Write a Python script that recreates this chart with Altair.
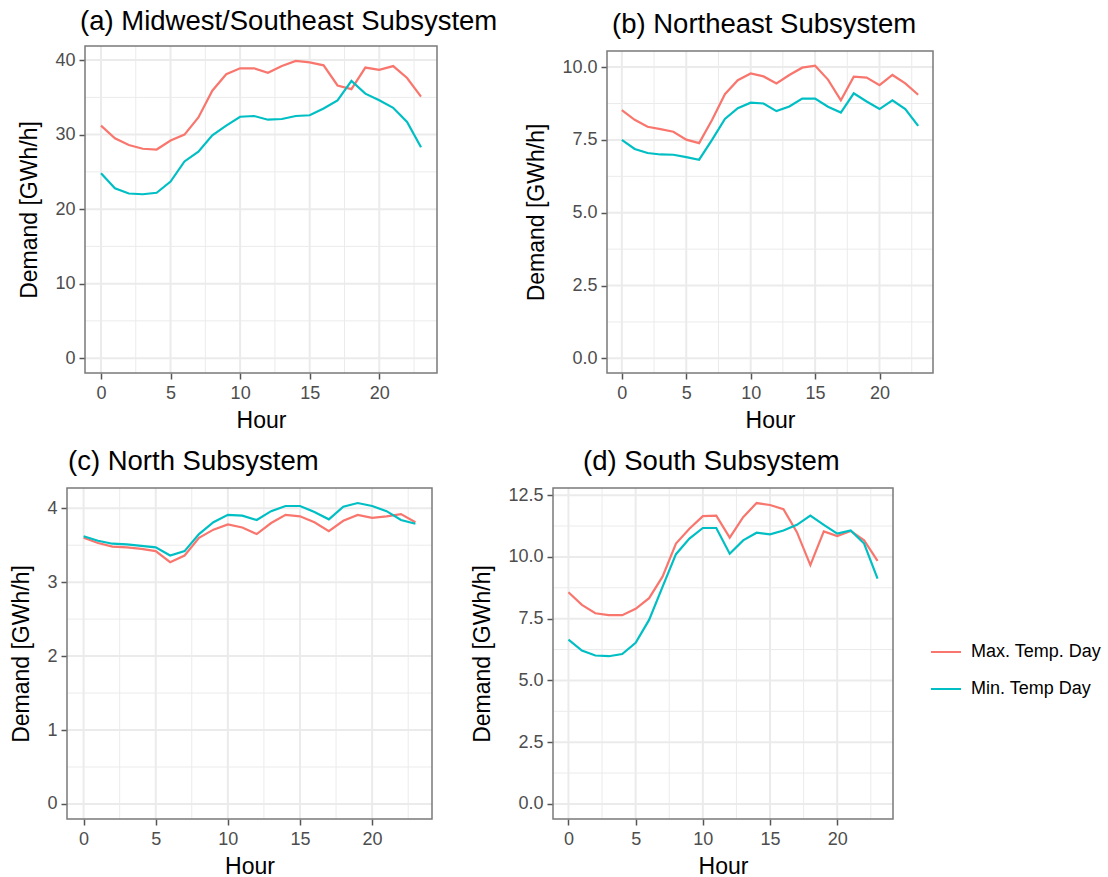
import altair as alt
import pandas as pd

# Hourly demand on the maximum- and minimum-temperature days, per subsystem
hours = list(range(24))

mw_max = [31.2, 29.5, 28.6, 28.1, 28.0, 29.2, 30.0, 32.3, 35.9, 38.1, 38.9, 38.9,
          38.3, 39.2, 39.9, 39.7, 39.3, 36.6, 36.1, 39.0, 38.7, 39.2, 37.6, 35.1]
mw_min = [24.8, 22.8, 22.1, 22.0, 22.2, 23.7, 26.4, 27.7, 29.9, 31.2, 32.4, 32.5,
          32.0, 32.1, 32.5, 32.6, 33.5, 34.6, 37.2, 35.5, 34.6, 33.6, 31.7, 28.3]

ne_max = [8.52, 8.19, 7.95, 7.87, 7.78, 7.51, 7.39, 8.18, 9.07, 9.55, 9.78, 9.68,
          9.44, 9.73, 9.98, 10.05, 9.57, 8.86, 9.67, 9.64, 9.38, 9.73, 9.44, 9.05]
ne_min = [7.50, 7.19, 7.05, 7.00, 6.99, 6.91, 6.82, 7.50, 8.22, 8.59, 8.78, 8.75,
          8.49, 8.65, 8.92, 8.92, 8.64, 8.44, 9.10, 8.82, 8.56, 8.86, 8.56, 7.98]

n_max = [3.60, 3.53, 3.48, 3.47, 3.45, 3.42, 3.27, 3.36, 3.60, 3.71, 3.78, 3.74,
         3.65, 3.80, 3.91, 3.89, 3.81, 3.69, 3.83, 3.91, 3.87, 3.89, 3.92, 3.81]
n_min = [3.62, 3.56, 3.52, 3.51, 3.49, 3.47, 3.36, 3.42, 3.65, 3.81, 3.91, 3.90,
         3.84, 3.96, 4.03, 4.03, 3.95, 3.85, 4.02, 4.07, 4.03, 3.96, 3.84, 3.79]

s_max = [8.57, 8.06, 7.72, 7.64, 7.64, 7.90, 8.33, 9.20, 10.54, 11.14, 11.65, 11.67,
         10.78, 11.61, 12.18, 12.10, 11.93, 11.00, 9.67, 11.03, 10.84, 11.05, 10.67, 9.84]
s_min = [6.65, 6.21, 6.01, 5.98, 6.07, 6.52, 7.45, 8.79, 10.11, 10.74, 11.17, 11.17,
         10.13, 10.67, 10.98, 10.91, 11.07, 11.30, 11.67, 11.30, 10.94, 11.07, 10.54, 9.12]

SERIES = ["Max. Temp. Day", "Min. Temp Day"]
COLORS = ["#F8766D", "#00BFC4"]

x_major = [0, 5, 10, 15, 20]
x_minor = [2.5, 7.5, 12.5, 17.5, 22.5]

FONT = "Liberation Sans"
LABEL = "#4D4D4D"
GRID = "#EBEBEB"
FRAME = "#7a7a7a"
TICK = "#555555"
X_LO, X_HI = -1.15, 24.15
W, H = 1108, 877


def panel(title, mx, mn, yticks, yminor, yfmt, box, title_dx, title_dy):
    """One subsystem panel; box = (left, right, top, bottom) of its plot area."""
    left, right, top, bottom = box
    df = pd.DataFrame({
        "Hour": hours * 2,
        "Demand": mx + mn,
        "Series": [SERIES[0]] * len(mx) + [SERIES[1]] * len(mn),
    })
    peak = max(max(mx), max(mn))
    ylo, yhi = -0.05 * peak, 1.05 * peak

    xscale = alt.Scale(domain=[X_LO, X_HI], nice=False, zero=False,
                       range=[left, right])
    yscale = alt.Scale(domain=[ylo, yhi], nice=False, zero=False,
                       range=[bottom, top])
    common = dict(grid=False, domain=False, tickSize=6, tickColor=TICK,
                  tickWidth=1.5, labelFontSize=18, labelColor=LABEL,
                  labelFont=FONT, labelFlush=False, labelOverlap=False,
                  titleFontSize=23, titleColor="black", titleFont=FONT,
                  titleFontWeight="normal")
    xaxis = alt.Axis(title="Hour", orient="bottom", offset=bottom - H,
                     values=x_major, format="d", labelPadding=5,
                     titlePadding=7, **common)
    yaxis = alt.Axis(title="Demand [GWh/h]", orient="left", offset=-left,
                     values=yticks, format=yfmt, labelPadding=4,
                     titlePadding=13, **common)
    x_enc = alt.X("Hour:Q", scale=xscale, axis=xaxis)
    y_enc = alt.Y("Demand:Q", scale=yscale, axis=yaxis)

    # grid: major lines at the tick values, thinner minor lines in between
    xg = pd.DataFrame({
        "Hour": x_major + x_minor,
        "Demand": [ylo] * (len(x_major) + len(x_minor)),
        "Demand2": [yhi] * (len(x_major) + len(x_minor)),
        "w": [2] * len(x_major) + [1] * len(x_minor),
    })
    yg = pd.DataFrame({
        "Demand": yticks + yminor,
        "Hour": [X_LO] * (len(yticks) + len(yminor)),
        "Hour2": [X_HI] * (len(yticks) + len(yminor)),
        "w": [2] * len(yticks) + [1] * len(yminor),
    })
    frame = pd.DataFrame({"Hour": [X_LO], "Hour2": [X_HI],
                          "Demand": [ylo], "Demand2": [yhi]})
    head = pd.DataFrame({"Hour": [X_LO], "Demand": [yhi], "label": [title]})

    grid_x = alt.Chart(xg).mark_rule(color=GRID).encode(
        x=x_enc, y=y_enc, y2="Demand2:Q",
        strokeWidth=alt.StrokeWidth("w:Q", scale=None))
    grid_y = alt.Chart(yg).mark_rule(color=GRID).encode(
        x=x_enc, x2="Hour2:Q", y=y_enc,
        strokeWidth=alt.StrokeWidth("w:Q", scale=None))
    lines = alt.Chart(df).mark_line(strokeWidth=2.2).encode(
        x=x_enc, y=y_enc,
        color=alt.Color("Series:N", scale=alt.Scale(domain=SERIES, range=COLORS),
                        legend=alt.Legend(title=None, orient="none",
                                          legendX=930, legendY=636,
                                          symbolType="stroke", symbolSize=900,
                                          symbolStrokeWidth=2, labelFontSize=18,
                                          labelFont=FONT, labelColor="black",
                                          labelOffset=9, rowPadding=12,
                                          padding=0)),
        detail="Series:N")
    border = alt.Chart(frame).mark_rect(fillOpacity=0, stroke=FRAME,
                                        strokeWidth=1.5).encode(
        x=x_enc, x2="Hour2:Q", y=y_enc, y2="Demand2:Q")
    heading = alt.Chart(head).mark_text(
        align="left", baseline="alphabetic", dx=title_dx, dy=title_dy,
        fontSize=27.5, font=FONT, color="black").encode(
        x=x_enc, y=y_enc, text="label:N")

    return alt.layer(grid_x, grid_y, lines, border, heading)


a = panel("(a) Midwest/Southeast Subsystem", mw_max, mw_min,
          [0, 10, 20, 30, 40], [5, 15, 25, 35], "d",
          (85, 437, 46, 373), -5, -16.5)
b = panel("(b) Northeast Subsystem", ne_max, ne_min,
          [0, 2.5, 5, 7.5, 10], [1.25, 3.75, 6.25, 8.75], ".1f",
          (607, 933, 51, 373), 5, -18)
c = panel("(c) North Subsystem", n_max, n_min,
          [0, 1, 2, 3, 4], [0.5, 1.5, 2.5, 3.5], "d",
          (67, 432, 488, 819), 1, -18.5)
d = panel("(d) South Subsystem", s_max, s_min,
          [0, 2.5, 5, 7.5, 10, 12.5], [1.25, 3.75, 6.25, 8.75, 11.25], ".1f",
          (553, 893, 488, 819), 30, -18)

chart = alt.layer(a, b, c, d).resolve_scale(
    x="independent", y="independent"
).properties(
    width=W, height=H,
    autosize=alt.AutoSizeParams(type="none"),
    padding=0,
).configure(font=FONT).configure_view(stroke=None)

chart.save("out.html", embed_options={"renderer": "svg", "actions": False})
